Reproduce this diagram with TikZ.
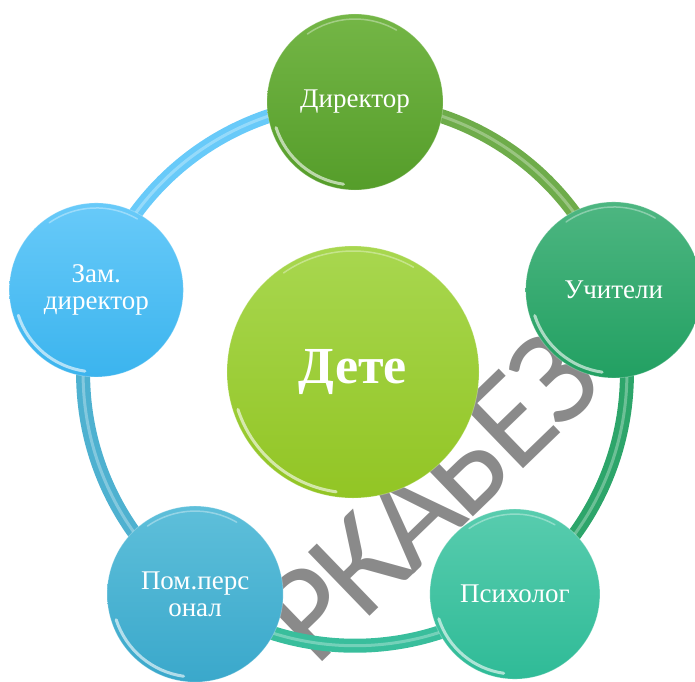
\documentclass[tikz,border=0pt]{standalone}
\usepackage{fontspec}
\setmainfont{Liberation Serif}
\newfontfamily\markfont{Carlito}[LetterSpace=-4]
\usepackage{tikz}
\usetikzlibrary{backgrounds}

\definecolor{detetop}{HTML}{A8D74F}
\definecolor{detebot}{HTML}{92C524}
\definecolor{dirtop}{HTML}{74B646}
\definecolor{dirbot}{HTML}{559D2A}
\definecolor{uchtop}{HTML}{4DB681}
\definecolor{uchbot}{HTML}{22A062}
\definecolor{psitop}{HTML}{58CCAE}
\definecolor{psibot}{HTML}{2FBB97}
\definecolor{pomtop}{HTML}{5EBFDA}
\definecolor{pombot}{HTML}{3AA8CB}
\definecolor{zamtop}{HTML}{68CAF9}
\definecolor{zambot}{HTML}{3BB4EE}
\definecolor{markgray}{HTML}{8A8A8A}

\begin{document}
\begin{tikzpicture}[x=1pt,y=1pt,
    ball/.style={circle, inner sep=0pt, minimum size=2*#1pt, text=white,
        draw=white, draw opacity=.25, line width=.8pt,
        font=\fontsize{27}{27}\selectfont, align=center,
        path picture={\pgfmathsetmacro\gr{#1-5}
            \draw[white, opacity=.6, line width=3pt, line cap=round]
                (path picture bounding box.center) ++(198:\gr pt)
                arc[start angle=198, end angle=262, radius=\gr pt];
            \draw[white, opacity=.35, line width=1.5pt, line cap=round]
                (path picture bounding box.center) ++(60:\gr pt)
                arc[start angle=60, end angle=125, radius=\gr pt];}},
    ringseg/.style={draw=#1, line width=14pt,
        postaction={draw=white, draw opacity=.3, line width=3pt}}]
    \useasboundingbox (-355,-307) rectangle (340,374);
    %balls
    \node[ball=126, top color=detetop, bottom color=detebot,
        font=\bfseries\fontsize{52}{52}\selectfont] (dete) at (-2,2) {Дете};
    \node[ball=88, top color=dirtop, bottom color=dirbot] (dir) at (90:272) {Директор};
    \node[ball=88, top color=uchtop, bottom color=uchbot] (uch) at (18:272) {Учители};
    \node[ball=85, top color=psitop, bottom color=psibot] (psi) at (-54:272) {Психолог};
    \node[ball=88, top color=pomtop, bottom color=pombot] (pom) at (-126:272) {Пом.перс\\онал};
    \node[ball=87, top color=zamtop, bottom color=zambot] (zam) at (162:272) {Зам.\\директор};
    \begin{scope}[on background layer]
        %watermark
        \node[text=markgray, font=\markfont\fontsize{138}{138}\selectfont, rotate=44]
            (mark) at (76,-122) {РКАБЕЗ};
        %ring
        \draw[ringseg=dirbot!85!white] (dir.center) to[bend left=36, looseness=.94] (uch.center);
        \draw[ringseg=uchbot!95!white] (uch.center) to[bend left=36, looseness=.94] (psi.center);
        \draw[ringseg=psibot!95!white] (psi.center) to[bend left=36, looseness=.94] (pom.center);
        \draw[ringseg=pombot!90!white] (pom.center) to[bend left=36, looseness=.94] (zam.center);
        \draw[ringseg=zamtop] (zam.center) to[bend left=36, looseness=.94] (dir.center);
    \end{scope}
\end{tikzpicture}
\end{document}
